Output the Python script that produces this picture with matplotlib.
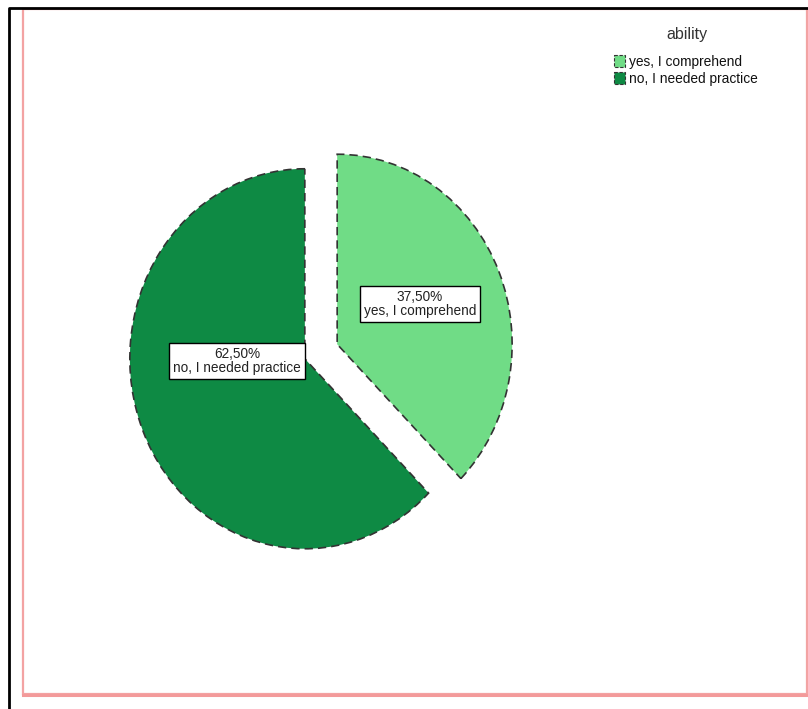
import matplotlib.pyplot as plt
from matplotlib.patches import Rectangle

# ability responses (percent)
categories = ["yes, I comprehend", "no, I needed practice"]
shares = [37.5, 62.5]
colors = ["#70DC86", "#0E8A44"]
legend_title = "ability"

W, H = 808, 709
fig = plt.figure(figsize=(W / 100, H / 100), dpi=100)
plt.rcParams['font.family'] = ['Liberation Sans', 'DejaVu Sans']


def fx(px):
    return px / W


def fy(py):
    return 1 - py / H


# page frame: black outer edge, pink chart border
bg = fig.add_axes([0, 0, 1, 1])
bg.set_xlim(0, W)
bg.set_ylim(H, 0)
bg.axis('off')
bg.add_patch(Rectangle((23, 8.5), 783.5, 685.5, fill=False, edgecolor='#F3A3A3', lw=1.6))
bg.plot([23, 807], [694.5, 694.5], color='#F39A9A', lw=2.2)
bg.plot([8.5, 8.5, 808], [709, 7.5, 7.5], color='black', lw=2)

# pie axes, stretched a little taller than wide
rx, ry = 175, 190
cx, cy = 321, 351.5
aw, ah = 600, 600
ax = fig.add_axes([fx(cx - aw / 2), fy(cy + ah / 2), aw / W, ah / H])

wedges, _ = ax.pie(shares, colors=colors, startangle=90, counterclock=False,
                   explode=[0.1, 0.1], radius=1,
                   wedgeprops=dict(edgecolor='#333333', linewidth=1.2,
                                   linestyle=(0, (5, 3))))
ax.set_aspect('auto')
ax.set_xlim(-aw / 2 / rx, aw / 2 / rx)
ax.set_ylim(-ah / 2 / ry, ah / 2 / ry)
ax.axis('off')

# value labels in white boxes
label_pos = [(420, 304), (237, 361)]
for (px, py), cat, val in zip(label_pos, categories, shares):
    fig.text(fx(px), fy(py), f"{val:.2f}%".replace('.', ',') + "\n" + cat,
             ha='center', va='center', fontsize=9.8, color='#222222', linespacing=1.05,
             bbox=dict(boxstyle='square,pad=0.3', facecolor='white', edgecolor='black', lw=1))

# legend
fig.text(fx(687), fy(35), legend_title, ha='center', va='center', fontsize=11.5, color='#333333')
for i, (cat, col) in enumerate(zip(categories, colors)):
    y = 62 + i * 17
    bg.add_patch(Rectangle((614, y - 7), 11, 12, facecolor=col, edgecolor='#333333',
                           lw=0.8, linestyle=(0, (3, 1.5))))
    bg.text(629, y, cat, ha='left', va='center', fontsize=9.9, color='#111111')

fig.savefig("out.png", dpi=100)
